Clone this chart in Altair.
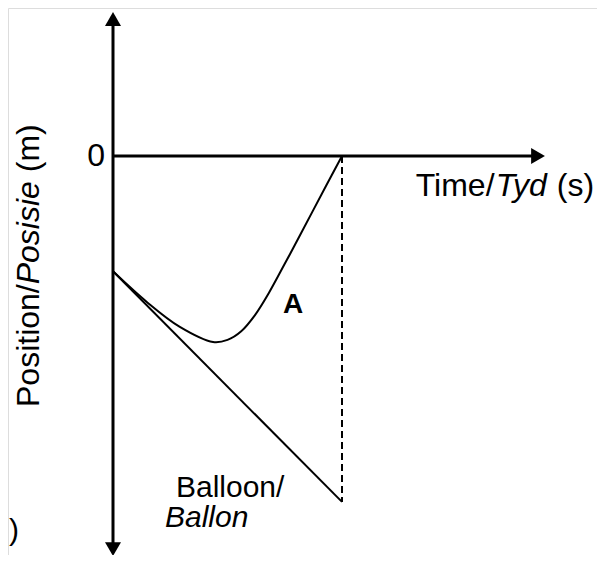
import altair as alt
import pandas as pd

# ---- data (arbitrary units: time 0..1, position 0 .. -3) ----
balloon_t = [0.0, 1.0]
balloon_pos = [-1.0, -3.0]

curve_t = [0.0, 0.15, 0.29, 0.437, 0.5, 0.56, 0.62, 0.68, 0.75, 0.82, 0.93, 1.0]
curve_pos = [-1.0, -1.27, -1.48, -1.613, -1.595, -1.52, -1.38, -1.19, -0.935, -0.675, -0.26, 0.0]

dash_t = [1.0, 1.0]
dash_pos = [0.0, -3.0]

yaxis_t = [0.0, 0.0]
yaxis_pos = [1.19, -3.38]
xaxis_t = [0.0, 1.84]
xaxis_pos = [0.0, 0.0]

W, H = 589, 547
XD = [-105 / 229, (W - 105) / 229]
YD = [-3.4605, 1.2836]
FONT = "Liberation Sans"
FS = 32

xs = alt.Scale(domain=XD, nice=False, zero=False)
ys = alt.Scale(domain=YD, nice=False, zero=False)


def df(t, p):
    return pd.DataFrame({"t": t, "p": p})


def enc(extra=None):
    d = dict(x=alt.X("t:Q", scale=xs, axis=None), y=alt.Y("p:Q", scale=ys, axis=None))
    if extra:
        d.update(extra)
    return d


yaxis = alt.Chart(df(yaxis_t, yaxis_pos)).mark_line(color="black", strokeWidth=3).encode(**enc())
xaxis = alt.Chart(df(xaxis_t, xaxis_pos)).mark_line(color="black", strokeWidth=3).encode(**enc())

arrows = pd.DataFrame({"t": [0.0, 0.0, 1.856], "p": [1.188, -3.409, 0.0],
                       "shape": ["triangle-up", "triangle-down", "triangle-right"]})
arrow_m = alt.Chart(arrows).mark_point(filled=True, color="black", opacity=1, size=256, strokeWidth=0).encode(
    **enc({"shape": alt.Shape("shape:N", scale=None, legend=None)}))

balloon = alt.Chart(df(balloon_t, balloon_pos)).mark_line(color="black", strokeWidth=2).encode(**enc())
curve = alt.Chart(df(curve_t, curve_pos)).mark_line(color="black", strokeWidth=2, interpolate="catmull-rom").encode(**enc())
dash = alt.Chart(df(dash_t, dash_pos)).mark_line(color="black", strokeWidth=2, strokeDash=[7, 4]).encode(**enc())

# ---- texts ----
texts = pd.DataFrame({
    "t": [-0.035, 1.322, 1.322, 1.322, 0.786, 0.275, 0.227, -0.454],
    "p": [0.0, -0.347, -0.347, -0.347, -1.362, -2.957, -3.218, -3.33],
    "label": ["0", "Time/", "Tyd", "(s)", "A", "Balloon/", "Ballon", ")"],
    "style": ["normal", "normal", "italic", "normal", "normal", "normal", "italic", "normal"],
    "weight": ["normal", "normal", "normal", "normal", "bold", "normal", "normal", "normal"],
    "align": ["right", "left", "left", "left", "center", "left", "left", "left"],
    "base": ["middle", "alphabetic", "alphabetic", "alphabetic", "alphabetic", "alphabetic", "alphabetic", "alphabetic"],
    "size": [FS, FS, FS, FS, 28, 30, 30, 30],
    "dx": [0, 0, 2.5 * FS, 4.41 * FS, 0, 0, 0, 0],
})

layers = []
for i, r in texts.iterrows():
    layers.append(
        alt.Chart(texts.iloc[[i]]).mark_text(
            font=FONT, fontSize=int(r["size"]), fontStyle=r["style"], fontWeight=r["weight"],
            align=r["align"], baseline=r["base"], dx=float(r["dx"]), color="black"
        ).encode(**enc({"text": "label:N"}))
    )

# y title, rotated
ytitle = pd.DataFrame({
    "t": [-0.323] * 3,
    "p": [-2.177] * 3,
    "label": ["Position/", "Posisie", "(m)"],
    "style": ["normal", "italic", "normal"],
    "dx": [0, 3.835 * FS, (3.835 + 3.223 + 0.278) * FS],
})
for i, r in ytitle.iterrows():
    layers.append(
        alt.Chart(ytitle.iloc[[i]]).mark_text(
            font=FONT, fontSize=FS, fontStyle=r["style"], angle=270,
            align="left", baseline="alphabetic", dx=float(r["dx"]), color="black"
        ).encode(**enc({"text": "label:N"}))
    )

chart = alt.layer(yaxis, xaxis, balloon, curve, dash, arrow_m, *layers).properties(
    width=W, height=H, autosize=alt.AutoSizeParams(type="none"), padding=0
).configure_view(stroke=None).configure(background="white")

chart.save("out.html", embed_options={"renderer": "svg", "actions": False})
